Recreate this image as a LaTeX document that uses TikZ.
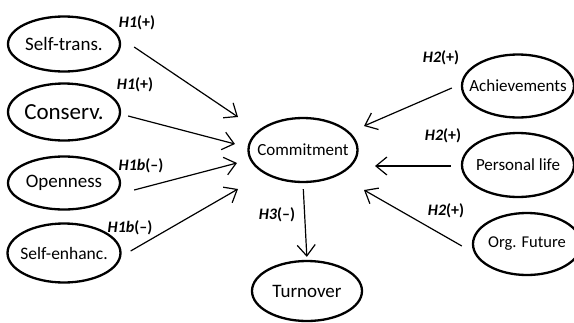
\documentclass[tikz,border=0pt]{standalone}
\usepackage{fontspec}
\setmainfont{Carlito}
\usetikzlibrary{shapes.geometric,arrows.meta,calc}
\newcommand\zbox[1]{\makebox[0pt]{#1}}
\newcommand\fs[1]{\fontsize{#1}{#1}\selectfont}
\begin{document}
\begin{tikzpicture}[x=1pt,y=-1pt,
  ell/.style={draw,ellipse,line width=2.3pt,inner sep=0pt,font=\fs{19}},
  arr/.style={line width=1.2pt,-{Straight Barb[length=11pt,width=18pt,line width=1.2pt]}},
  hyp/.style={font=\fs{16}\bfseries}
]
\useasboundingbox (0,0) rectangle (574,322);
\node[ell,minimum width=112pt,minimum height=55pt] (st) at (64,44) {\zbox{Self-trans.}};
\node[ell,minimum width=112pt,minimum height=57pt,font=\fs{23}] (co) at (64,112) {\zbox{Conserv.}};
\node[ell,minimum width=112pt,minimum height=53pt] (op) at (64,183) {\zbox{Openness}};
\node[ell,minimum width=113pt,minimum height=59pt,font=\fs{17.5}] (se) at (64,253) {\zbox{Self-enhanc.}};
\node[ell,minimum width=109pt,minimum height=64pt,font=\fs{17}] (cm) at (303,150) {\zbox{Commitment}};
\node[ell,minimum width=110pt,minimum height=60pt] (tu) at (307,291) {\zbox{Turnover}};
\node[ell,minimum width=112pt,minimum height=63pt,font=\fs{17}] (ac) at (518,86) {\zbox{Achievements}};
\node[ell,minimum width=112pt,minimum height=64pt,font=\fs{17}] (pl) at (518,165) {\zbox{Personal life}};
\node[ell,minimum width=108pt,minimum height=62pt,font=\fs{16.5}] (of) at (527,244) {\zbox{Org. Future}};
% arrow tips
\coordinate (t1) at (238,117);
\coordinate (t2) at (235,144);
\coordinate (t3) at (237,163);
\coordinate (t4) at (238,189);
\coordinate (t5) at (364,126);
\coordinate (t6) at (375,166);
\coordinate (t7) at (364,190);
\draw[arr] ($(st.east)+(13,3)$) -- (t1);
\draw[arr] ($(co.east)+(7,4)$) -- (t2);
\draw[arr] ($(op.east)+(13,7)$) -- (t3);
\draw[arr] ($(se.east)+(9,-2)$) -- (t4);
\draw[arr] ($(ac.west)+(-9,2)$) -- (t5);
\draw[arr] ($(pl.west)+(-10,1)$) -- (t6);
\draw[arr] ($(of.west)+(-10,2)$) -- (t7);
\draw[arr,shorten <=6pt,shorten >=3pt] (cm.south) -- (tu.north);
% labels
\node[hyp] (l1) at (137,23) {\textit{H1}(+)};
\node[hyp] (l2) at (135,85) {\textit{H1}(+)};
\node[hyp] (l3) at (141,166) {\textit{H1b}(–)};
\node[hyp] (l4) at (130,228) {\textit{H1b}(–)};
\node[hyp] (l5) at (277,215) {\textit{H3}(–)};
\node[hyp] (l6) at (441,58) {\textit{H2}(+)};
\node[hyp] (l7) at (443,136) {\textit{H2}(+)};
\node[hyp] (l8) at (446,211) {\textit{H2}(+)};
\end{tikzpicture}
\end{document}
